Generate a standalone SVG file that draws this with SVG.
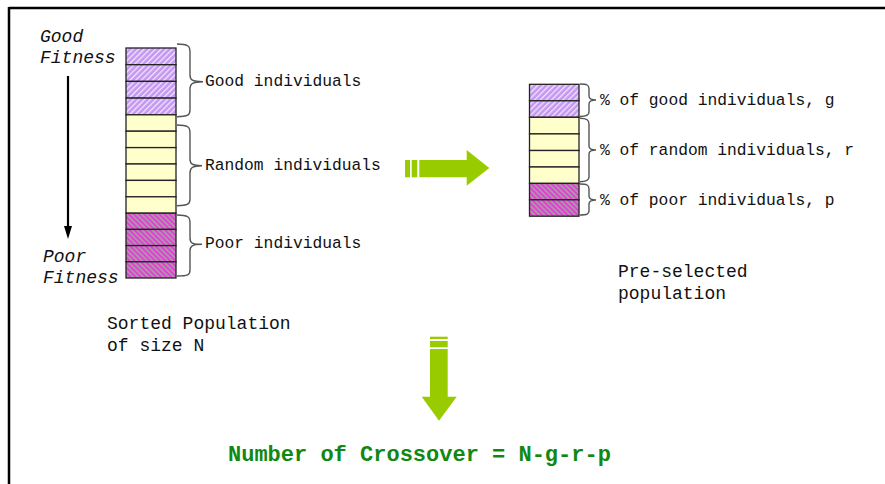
<svg xmlns="http://www.w3.org/2000/svg" width="885" height="484" viewBox="0 0 885 484">
<style>
  .t { font-family: "Liberation Mono", "Courier New", monospace; fill: #111; }
  .lbl { font-size: 16.3px; }
  .big { font-size: 18px; }
  .it { font-size: 18px; font-style: italic; }
  .res { font-size: 22px; font-weight: bold; fill: #118811; }
  .cell { stroke: #222; stroke-width: 1.3; }
  .good { fill: url(#hGood); }
  .rand { fill: #ffffcc; }
  .poor { fill: url(#hPoor); }
  .brace { fill: none; stroke: #555; stroke-width: 1.4; }
  .garrow { fill: #99cc00; }
</style>
<defs>
  <pattern id="hGood" patternUnits="userSpaceOnUse" width="4" height="4" patternTransform="rotate(45)">
    <rect width="4" height="4" fill="#c597f2"/>
    <rect x="0" y="0" width="1.3" height="4" fill="#f2e6ff"/>
  </pattern>
  <pattern id="hPoor" patternUnits="userSpaceOnUse" width="3.6" height="3.6" patternTransform="rotate(-45)">
    <rect width="3.6" height="3.6" fill="#a898a8"/>
    <rect x="0" y="0" width="1.6" height="3.6" fill="#f22ee0"/>
  </pattern>
</defs>
<rect width="885" height="484" fill="#ffffff"/>
<g id="frame">
  <line x1="9" y1="8" x2="885" y2="8" stroke="#000" stroke-width="2.5"/>
  <line x1="9" y1="7" x2="9" y2="484" stroke="#000" stroke-width="2.5"/>
</g>

<g id="fitness-labels">
  <text class="t it" x="40" y="42">Good</text>
  <text class="t it" x="40" y="63">Fitness</text>
  <text class="t it" x="43" y="262">Poor</text>
  <text class="t it" x="43" y="283">Fitness</text>
</g>

<g id="sorted-population">
  <rect class="cell good" x="126" y="48" width="50" height="16.7"/>
  <rect class="cell good" x="126" y="64.7" width="50" height="16.7"/>
  <rect class="cell good" x="126" y="81.4" width="50" height="16.7"/>
  <rect class="cell good" x="126" y="98.1" width="50" height="16.7"/>
  <rect class="cell rand" x="126" y="114.8" width="50" height="16.4"/>
  <rect class="cell rand" x="126" y="131.2" width="50" height="16.4"/>
  <rect class="cell rand" x="126" y="147.6" width="50" height="16.4"/>
  <rect class="cell rand" x="126" y="164" width="50" height="16.4"/>
  <rect class="cell rand" x="126" y="180.4" width="50" height="16.4"/>
  <rect class="cell rand" x="126" y="196.8" width="50" height="16.4"/>
  <rect class="cell poor" x="126" y="213.2" width="50" height="16.2"/>
  <rect class="cell poor" x="126" y="229.4" width="50" height="16.2"/>
  <rect class="cell poor" x="126" y="245.6" width="50" height="16.2"/>
  <rect class="cell poor" x="126" y="261.8" width="50" height="16.2"/>
  <text class="t big" x="107" y="329">Sorted Population</text>
  <text class="t big" x="107" y="351">of size N</text>
</g>

<g id="left-groups">
  <path class="brace" d="M177,44 C188,44 190,46 190,52 L190,75 C190,80 192,81.7 203,81.7 C192,81.7 190,84 190,89 L190,110 C190,115 188,116.7 177,116.7"/>
  <text class="t lbl" x="205" y="86">Good individuals</text>
  <path class="brace" d="M177,125 C188,125 190,127 190,133 L190,159 C190,164 192,165.7 202,165.7 C192,165.7 190,168 190,173 L190,199 C190,204 188,205.7 177,205.7"/>
  <text class="t lbl" x="205" y="170">Random individuals</text>
  <path class="brace" d="M177,215 C188,215 190,217 190,223 L190,238 C190,243 192,244.3 202,244.3 C192,244.3 190,246 190,251 L190,270 C190,275 188,276 177,276"/>
  <text class="t lbl" x="205" y="248">Poor individuals</text>
</g>

<g id="preselected-population">
  <rect class="cell good" x="529.5" y="84.3" width="49.5" height="16.5"/>
  <rect class="cell good" x="529.5" y="100.8" width="49.5" height="16.5"/>
  <rect class="cell rand" x="529.5" y="117.3" width="49.5" height="16.6"/>
  <rect class="cell rand" x="529.5" y="133.9" width="49.5" height="16.6"/>
  <rect class="cell rand" x="529.5" y="150.5" width="49.5" height="16.5"/>
  <rect class="cell rand" x="529.5" y="167" width="49.5" height="16.4"/>
  <rect class="cell poor" x="529.5" y="183.4" width="49.5" height="16.4"/>
  <rect class="cell poor" x="529.5" y="199.8" width="49.5" height="16.4"/>
  <text class="t big" x="618" y="277">Pre-selected</text>
  <text class="t big" x="618" y="299">population</text>
</g>

<g id="right-groups">
  <path class="brace" d="M580,84 C587,84 589,85 589,89 L589,96 C589,99 591,100 596,100 C591,100 589,101 589,104 L589,112 C589,115 587,116.5 580,116.5"/>
  <text class="t lbl" x="600" y="105">% of good individuals, g</text>
  <path class="brace" d="M580,118.3 C587,118.3 589,120 589,124 L589,146 C589,149 591,150 596,150 C591,150 589,151 589,154 L589,177 C589,180 587,181.7 580,181.7"/>
  <text class="t lbl" x="600" y="155">% of random individuals, r</text>
  <path class="brace" d="M580,184 C587,184 589,185 589,189 L589,196 C589,199 591,200 596,200 C591,200 589,201 589,204 L589,211 C589,214 587,215 580,215"/>
  <text class="t lbl" x="600" y="205">% of poor individuals, p</text>
</g>

<g id="result">
  <text class="t res" x="228" y="461">Number of Crossover = N-g-r-p</text>
</g>

<g id="connectors">
  <line x1="68" y1="76" x2="68" y2="229" stroke="#000" stroke-width="2.2"/>
  <polygon points="64,226 72,226 68,239" fill="#000"/>
  <g id="arrow-right" class="garrow">
    <rect x="405" y="160" width="5" height="17.3"/>
    <rect x="411.7" y="160" width="5.6" height="17.3"/>
    <polygon points="419.3,160 466.7,160 466.7,150 489.3,168 466.7,185.7 466.7,177.3 419.3,177.3"/>
  </g>
  <g id="arrow-down" class="garrow">
    <rect x="430" y="336.7" width="17.7" height="2.3"/>
    <rect x="430" y="341" width="17.7" height="6.3"/>
    <polygon points="430,349 447.7,349 447.7,396.7 456.7,396.7 439,420.7 421.7,396.7 430,396.7"/>
  </g>
</g>
</svg>
